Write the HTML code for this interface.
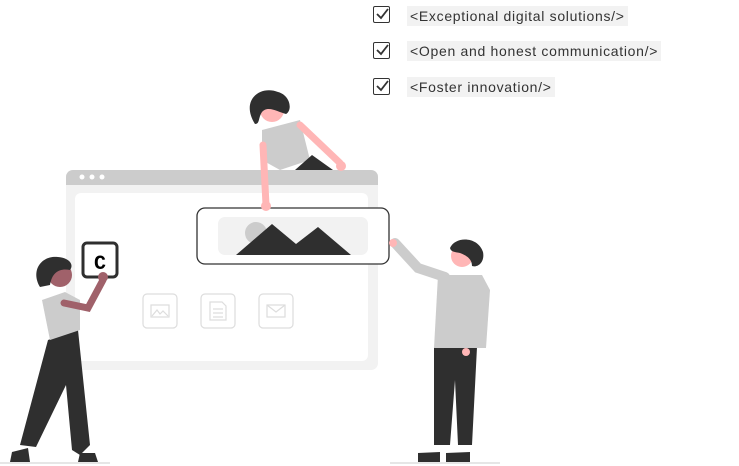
<!DOCTYPE html>
<html><head><style>
body{margin:0;background:#fff;width:739px;height:466px;overflow:hidden;font-family:"Liberation Sans",sans-serif}
.t{position:absolute;left:407px;height:20px;line-height:20px;background:#f2f2f2;font-size:14px;color:#333;padding:0 3px;letter-spacing:0.7px}
.c{position:absolute;left:373px;width:15px;height:15px;border:1.5px solid #333;border-radius:2px}
</style></head><body>
<div class="c" style="top:6px"></div><div class="t" style="top:6px">&lt;Exceptional digital solutions/&gt;</div>
<div class="c" style="top:42px"></div><div class="t" style="top:41px">&lt;Open and honest communication/&gt;</div>
<div class="c" style="top:78px"></div><div class="t" style="top:77px">&lt;Foster innovation/&gt;</div>
<svg width="739" height="466" style="position:absolute;left:0;top:0">
<g fill="none" stroke="#333" stroke-width="1.8">
<path d="M377,14 l4,4 l7,-9"/><path d="M377,50 l4,4 l7,-9"/><path d="M377,86 l4,4 l7,-9"/>
</g>
<rect x="66" y="170" width="312" height="200" rx="7" fill="#f2f2f2"/>
<path d="M66,185 v-8 a7,7 0 0 1 7,-7 h298 a7,7 0 0 1 7,7 v8z" fill="#ccc"/>
<circle cx="82" cy="177" r="2.5" fill="#fff"/><circle cx="92" cy="177" r="2.5" fill="#fff"/><circle cx="102" cy="177" r="2.5" fill="#fff"/>
<rect x="75" y="193" width="293" height="168" rx="6" fill="#fff"/>
<g fill="none" stroke="#ddd" stroke-width="1.2">
<rect x="143" y="294" width="34" height="34" rx="4"/><rect x="201" y="294" width="34" height="34" rx="4"/><rect x="259" y="294" width="34" height="34" rx="4"/>
<rect x="151" y="305" width="18" height="12"/><path d="M152,316 l5,-6 3,4 3,-3 5,5"/>
<path d="M210,302 h12 l4,4 v14 h-16z M213,309 h10 M213,313 h10 M213,317 h10"/>
<rect x="267" y="305" width="18" height="12"/><path d="M267,305 l9,7 9,-7"/>
</g>
<rect x="197" y="208" width="192" height="56" rx="8" fill="#fff" stroke="#333" stroke-width="1.3"/>
<rect x="218" y="217" width="150" height="38" rx="7" fill="#f2f2f2"/>
<circle cx="256" cy="233" r="11" fill="#ccc"/>
<polygon points="236,255 272,224 296,244 318,227 351,255" fill="#2f2f2f"/>
<path d="M262,130 L300,120 L310,160 L280,170 L262,160z" fill="#ccc"/>
<path d="M295,170 L312,155 L333,170z" fill="#2f2f2f"/>
<path d="M300,125 L340,163" stroke="#ffb6b6" stroke-width="7" stroke-linecap="round"/>
<circle cx="341" cy="166" r="5" fill="#ffb6b6"/>
<path d="M263,145 L266,205" stroke="#ffb6b6" stroke-width="7" stroke-linecap="round"/>
<circle cx="266" cy="206" r="5" fill="#ffb6b6"/>
<circle cx="272" cy="110" r="12" fill="#ffb6b6"/>
<path d="M255,124 C240,100 260,85 278,92 C290,95 293,110 286,114 C278,112 268,105 262,112 C258,118 260,124 255,124z" fill="#2f2f2f"/>
<path d="M20,445 L48,340 L78,330 L90,445 L80,455 L72,450 L66,385 L36,447z" fill="#2f2f2f"/>
<path d="M12,452 L28,448 L30,462 L10,462z M80,453 L95,453 L98,462 L78,462z" fill="#2f2f2f"/>
<path d="M42,300 L65,292 L80,300 L80,330 L50,340z" fill="#ccc"/>
<path d="M64,303 L88,308 L103,280" stroke="#a0616a" stroke-width="7" fill="none" stroke-linecap="round"/>
<rect x="83" y="243" width="34" height="34" rx="4" fill="#fff" stroke="#2f2f2f" stroke-width="3"/>
<text x="100" y="269" font-family="Liberation Mono,monospace" font-weight="bold" font-size="20" text-anchor="middle" fill="#000">C</text>
<circle cx="103" cy="277" r="5" fill="#a0616a"/>
<circle cx="60" cy="275" r="12" fill="#a0616a"/>
<path d="M40,287 C30,270 42,255 58,257 C70,258 74,265 70,270 C60,268 52,272 50,285 z" fill="#2f2f2f"/>
<path d="M434,347 L477,347 L472,445 L458,445 L455,380 L450,445 L434,445z" fill="#2f2f2f"/>
<path d="M418,453 L440,452 L440,462 L418,462z M446,453 L470,452 L470,462 L446,462z" fill="#2f2f2f"/>
<path d="M395,243 L418,268 L445,277" stroke="#ccc" stroke-width="10" fill="none" stroke-linecap="round"/>
<circle cx="393" cy="243" r="4" fill="#ffb6b6"/>
<path d="M438,275 L482,275 L490,290 L486,348 L434,348z" fill="#ccc"/>
<circle cx="466" cy="352" r="4" fill="#ffb6b6"/>
<circle cx="462" cy="256" r="11" fill="#ffb6b6"/>
<path d="M450,248 C455,236 478,236 483,252 C485,262 478,268 472,266 C472,258 465,255 460,253 C455,252 451,252 450,248z" fill="#2f2f2f"/>
<line x1="0" y1="463" x2="110" y2="463" stroke="#ccc"/>
<line x1="390" y1="463" x2="500" y2="463" stroke="#ccc"/>
</svg>
</body></html>
